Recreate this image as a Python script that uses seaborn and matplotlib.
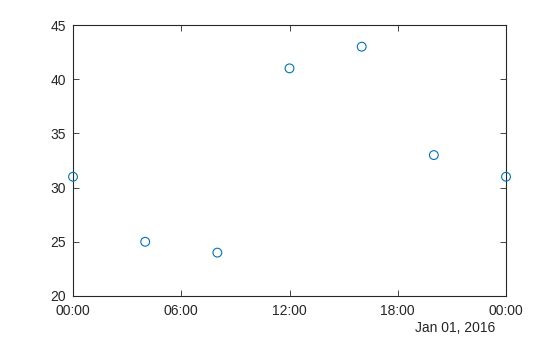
import matplotlib
matplotlib.use("Agg")
import matplotlib.pyplot as plt
import matplotlib.dates as mdates
import seaborn as sns
import pandas as pd

times = ["2016-01-01 00:00", "2016-01-01 04:00", "2016-01-01 08:00", "2016-01-01 12:00",
         "2016-01-01 16:00", "2016-01-01 20:00", "2016-01-02 00:00"]
values = [31, 25, 24, 41, 43, 33, 31]
tick_times = ["2016-01-01 00:00", "2016-01-01 06:00", "2016-01-01 12:00",
              "2016-01-01 18:00", "2016-01-02 00:00"]
y_ticks = [20, 25, 30, 35, 40, 45]

df = pd.DataFrame({"t": pd.to_datetime(times), "v": values})

sns.set_style("white")
plt.rcParams["font.family"] = ["Liberation Sans", "DejaVu Sans"]
plt.rcParams["font.size"] = 10

text_col = "#262626"
fig = plt.figure(figsize=(5.6, 3.37), dpi=100)
ax = fig.add_axes([0.1304, 0.1217, 0.7732, 0.8041])
sns.scatterplot(data=df, x="t", y="v", ax=ax, marker="o", s=40,
                facecolors="none", edgecolor="#0072BD", linewidth=0.8, clip_on=False, zorder=5)
ax.set_xlim(pd.to_datetime(tick_times[0]), pd.to_datetime(tick_times[-1]))
ax.set_ylim(20, 45)
ax.set_yticks(y_ticks)
ax.set_xticks(pd.to_datetime(tick_times))
ax.xaxis.set_major_formatter(mdates.DateFormatter("%H:%M"))
ax.set_xlabel("")
ax.set_ylabel("")
for s in ax.spines.values():
    s.set_color(text_col)
    s.set_linewidth(0.8)
ax.tick_params(direction="in", length=4, width=0.6, top=True, right=True,
               bottom=True, left=True, labelsize=10, colors=text_col)
ax.tick_params(axis="x", pad=6)
ax.tick_params(axis="y", pad=5)
ax.text(0.882, -0.092, "Jan 01, 2016", transform=ax.transAxes, ha="center", va="top",
        fontsize=10, color=text_col)
fig.savefig("out.png", dpi=100)
